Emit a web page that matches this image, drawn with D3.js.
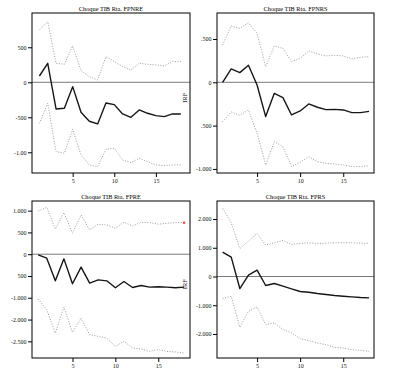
<!DOCTYPE html>
<html>
<head>
<meta charset="utf-8">
<script src="https://cdn.jsdelivr.net/npm/d3@7"></script>
<style>
  body { margin: 0; background: #fff; }
  text { font-family: "Liberation Serif", "DejaVu Serif", serif; }
</style>
</head>
<body>
<div id="chart"></div>
<script>
/**
 * DATA
 * */
const periods = [1, 2, 3, 4, 5, 6, 7, 8, 9, 10, 11, 12, 13, 14, 15, 16, 17, 18];
const titles = ["Choque TIB Rta. FPNRE", "Choque TIB Rta. FPNRS", "Choque TIB Rta. FPRE", "Choque TIB Rta. FPRS"];
const xTicks = [5, 10, 15];

// panel 1 - FPNRE
const irf1 = [90, 271, -381, -371, -62, -429, -557, -595, -295, -319, -452, -500, -395, -443, -476, -490, -452, -452];
const up1 = [748, 867, 271, 257, 519, 167, 81, 33, 367, 295, 224, 176, 271, 257, 248, 233, 295, 295];
const lo1 = [-586, -300, -990, -1014, -671, -1038, -1181, -1205, -957, -943, -1110, -1148, -1086, -1133, -1181, -1190, -1181, -1181];
const yTicks1 = [500, 0, -500, -1000];
const yLabels1 = ["500", "0", "-500", "-1.00"];

// panel 2 - FPNRS
const irf2 = [0, 154, 112, 196, -31, -396, -127, -177, -377, -331, -250, -288, -315, -312, -319, -350, -350, -335];
const up2 = [431, 650, 623, 688, 565, 181, 419, 392, 238, 277, 362, 327, 304, 312, 304, 269, 288, 296];
const lo2 = [-454, -342, -381, -319, -588, -954, -685, -742, -973, -923, -858, -915, -935, -942, -954, -973, -973, -962];
const yTicks2 = [500, 0, -500, -1000];
const yLabels2 = [".500", "0", ".500", "-1.000"];

// panel 3 - FPRE
const irf3 = [-15, -92, -611, -107, -679, -298, -664, -588, -611, -771, -626, -763, -718, -756, -748, -756, -771, -756];
const up3 = [992, 1076, 580, 954, 481, 901, 557, 687, 672, 595, 733, 649, 733, 725, 687, 710, 725, 725];
const lo3 = [-1031, -1275, -1809, -1214, -1794, -1466, -1847, -1885, -1924, -2115, -2000, -2153, -2176, -2229, -2191, -2229, -2244, -2267];
const yTicks3 = [1000, 500, 0, -500, -1000, -1500, -2000];
const yLabels3 = ["1.000", "500", "0", "500", "-1.000", "-2.000", "-2.500"];

// panel 4 - FPRS
const irf4 = [849, 674, -419, 47, 221, -314, -244, -337, -430, -523, -547, -593, -628, -663, -686, -709, -733, -744];
const up4 = [2372, 1872, 965, 1233, 1500, 1093, 1174, 1256, 1116, 1151, 1174, 1151, 1163, 1174, 1174, 1174, 1163, 1151];
const lo4 = [-767, -686, -1767, -1209, -1058, -1674, -1616, -1849, -1965, -2163, -2233, -2314, -2372, -2465, -2488, -2547, -2570, -2605];
const yTicks4 = [2000, 1000, 0, -1000, -2000];
const yLabels4 = ["2.000", "1.000", "0", "-1.000", "-2.000"];

/**
 * LAYOUT
 * */
const width = 397, height = 387;

const panels = [
  { title: titles[0], irf: irf1, up: up1, lo: lo1, yt: yTicks1, yl: yLabels1,
    box: [32, 13, 190, 173], xd: [0.11, 19.1], yd: [-1296, 990], irfLabel: true },
  { title: titles[1], irf: irf2, up: up2, lo: lo2, yt: yTicks2, yl: yLabels2,
    box: [217, 13, 374, 173], xd: [0.35, 18.57], yd: [-1047, 800] },
  { title: titles[2], irf: irf3, up: up3, lo: lo3, yt: yTicks3, yl: yLabels3,
    box: [32, 201, 190, 358], xd: [0.28, 18.7], yd: [-2382, 1221], irfLabel: true, redDot: true },
  { title: titles[3], irf: irf4, up: up4, lo: lo4, yt: yTicks4, yl: yLabels4,
    box: [217, 201, 374, 358], xd: [0.35, 18.57], yd: [-2836, 2627] }
];

const svg = d3.select("#chart")
  .append("svg")
  .attr("width", width)
  .attr("height", height);

svg.append("rect").attr("width", width).attr("height", height).attr("fill", "#fff");

panels.forEach(p => {
  const [x0, y0, x1, y1] = p.box;
  const x = d3.scaleLinear().domain(p.xd).range([x0, x1]);
  const y = d3.scaleLinear().domain(p.yd).range([y1, y0]);
  const g = svg.append("g");

  // zero line
  g.append("line")
    .attr("x1", x0).attr("x2", x1)
    .attr("y1", y(0)).attr("y2", y(0))
    .attr("stroke", "#7a7a7a")
    .attr("stroke-width", 1);

  const line = d3.line().x((d, i) => x(periods[i])).y(d => y(d));

  // confidence bands
  [p.up, p.lo].forEach(s => {
    g.append("path")
      .attr("d", line(s))
      .attr("fill", "none")
      .attr("stroke", "#9c9c9c")
      .attr("stroke-width", 1)
      .attr("stroke-dasharray", "1,1.6");
  });

  // impulse response
  g.append("path")
    .attr("d", line(p.irf))
    .attr("fill", "none")
    .attr("stroke", "#161616")
    .attr("stroke-width", 1.4)
    .attr("stroke-linejoin", "round");

  if (p.redDot) {
    const last = periods.length - 1;
    g.append("rect")
      .attr("x", x(periods[last]) - 1)
      .attr("y", y(p.up[last]) - 1)
      .attr("width", 2.2).attr("height", 2.2)
      .attr("fill", "#e8473a");
  }

  // frame
  g.append("rect")
    .attr("x", x0).attr("y", y0)
    .attr("width", x1 - x0).attr("height", y1 - y0)
    .attr("fill", "none")
    .attr("stroke", "#000")
    .attr("stroke-width", 1);

  // axes
  const yAxis = d3.axisLeft(y)
    .tickValues(p.yt)
    .tickFormat((d, i) => p.yl[i])
    .tickSize(4)
    .tickPadding(1.5);
  g.append("g")
    .attr("transform", `translate(${x0},0)`)
    .call(yAxis)
    .call(a => a.select(".domain").remove())
    .call(a => a.selectAll("text").attr("font-size", 6).attr("fill", "#111"));

  const xAxis = d3.axisBottom(x)
    .tickValues(xTicks)
    .tickSize(4)
    .tickPadding(2);
  g.append("g")
    .attr("transform", `translate(0,${y1})`)
    .call(xAxis)
    .call(a => a.select(".domain").remove())
    .call(a => a.selectAll("text").attr("font-size", 6).attr("fill", "#111"));

  // title
  g.append("text")
    .attr("x", (x0 + x1) / 2)
    .attr("y", y0 - 2)
    .attr("text-anchor", "middle")
    .attr("font-size", 6.3)
    .attr("fill", "#000")
    .text(p.title);

  if (p.irfLabel) {
    const cy = y0 + (y1 - y0) * 0.53;
    g.append("text")
      .attr("transform", `translate(${x1 - 3},${cy}) rotate(-90)`)
      .attr("text-anchor", "middle")
      .attr("font-size", 6.5)
      .attr("fill", "#111")
      .text("IRF");
  }
});
</script>
</body>
</html>
